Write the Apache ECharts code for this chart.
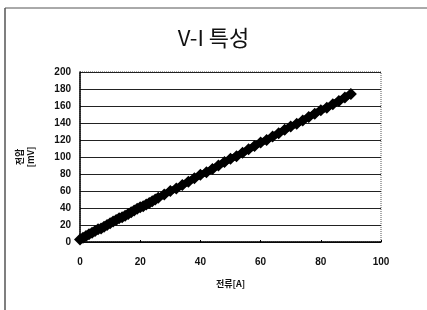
<!DOCTYPE html>
<html>
<head>
<meta charset="utf-8">
<script src="https://cdn.jsdelivr.net/npm/echarts@6/dist/echarts.min.js"></script>
<style>
  html, body { margin: 0; padding: 0; background: #fff; }
  #chart { width: 427px; height: 310px; }
</style>
</head>
<body>
<div id="chart"></div>
<script>
const currentA = [0, 1, 2, 3, 4, 5, 6, 7, 8, 9, 10, 11, 12, 13, 14, 15, 16, 17, 18, 19,
  20, 21, 22, 23, 24, 25, 26, 28, 30, 32, 34, 36, 38, 40, 42, 44, 46, 48, 50,
  52, 54, 56, 58, 60, 62, 64, 66, 68, 70, 72, 74, 76, 78, 80, 82, 84, 86, 88, 90];
const voltageMv = [3, 5, 7, 9, 11, 13, 15, 16, 18, 20, 22, 24, 26, 28, 29, 31, 33, 35, 37, 39,
  41, 42, 44, 46, 48, 50, 52, 56, 60, 63, 67, 71, 75, 79, 82, 86, 90, 94, 98,
  101, 105, 109, 113, 117, 120, 124, 128, 132, 136, 139, 143, 147, 151, 155, 158, 162, 166, 170, 174];
const xTicks = { min: 0, max: 100, interval: 20 };
const yTicks = { min: 0, max: 200, interval: 20 };

const points = currentA.map((x, i) => [x, voltageMv[i]]);

const chart = echarts.init(document.getElementById('chart'));
chart.setOption({
  animation: false,
  backgroundColor: '#fff',
  title: {
    text: 'V-I 특성',
    left: 'center',
    top: 22,
    textStyle: { fontFamily: 'Noto Sans CJK KR', fontSize: 22, fontWeight: 'normal', color: '#111' }
  },
  grid: {
    left: 80, right: 46, top: 72, bottom: 68,
    show: true, borderColor: '#555', borderWidth: 1, borderType: 'dotted'
  },
  xAxis: {
    type: 'value',
    min: xTicks.min, max: xTicks.max, interval: xTicks.interval,
    name: '전류[A]',
    nameLocation: 'middle',
    nameGap: 37,
    nameTextStyle: { fontFamily: 'Noto Sans CJK KR', fontSize: 9, fontWeight: 'bold', color: '#111' },
    axisLine: { lineStyle: { color: '#000', width: 1.5 } },
    axisTick: { show: true, inside: true, length: 2, lineStyle: { color: '#000' } },
    axisLabel: { margin: 15, fontFamily: 'Liberation Sans', fontSize: 10, fontWeight: 'bold', color: '#111' },
    splitLine: { show: false }
  },
  yAxis: {
    type: 'value',
    min: yTicks.min, max: yTicks.max, interval: yTicks.interval,
    name: '전압\n[mV]',
    nameLocation: 'middle',
    nameRotate: 90,
    nameGap: 44,
    nameTextStyle: { fontFamily: 'Noto Sans CJK KR', fontSize: 9, fontWeight: 'bold', color: '#111', lineHeight: 11 },
    axisLine: { lineStyle: { color: '#000', width: 1.5 } },
    axisTick: { show: false },
    axisLabel: { margin: 9, fontFamily: 'Liberation Sans', fontSize: 10, fontWeight: 'bold', color: '#111' },
    splitLine: { show: true, lineStyle: { color: '#222', width: 1 } }
  },
  series: [{
    type: 'line',
    data: points,
    symbol: 'diamond',
    symbolSize: 12,
    showSymbol: true,
    itemStyle: { color: '#000' },
    lineStyle: { color: '#000', width: 7 },
    z: 3
  }],
  graphic: [
    { type: 'line', shape: { x1: 5, y1: 8, x2: 427, y2: 8 }, style: { stroke: '#555', lineWidth: 1 } },
    { type: 'line', shape: { x1: 5, y1: 8, x2: 5, y2: 310 }, style: { stroke: '#555', lineWidth: 1.5 } }
  ]
});
</script>
</body>
</html>
